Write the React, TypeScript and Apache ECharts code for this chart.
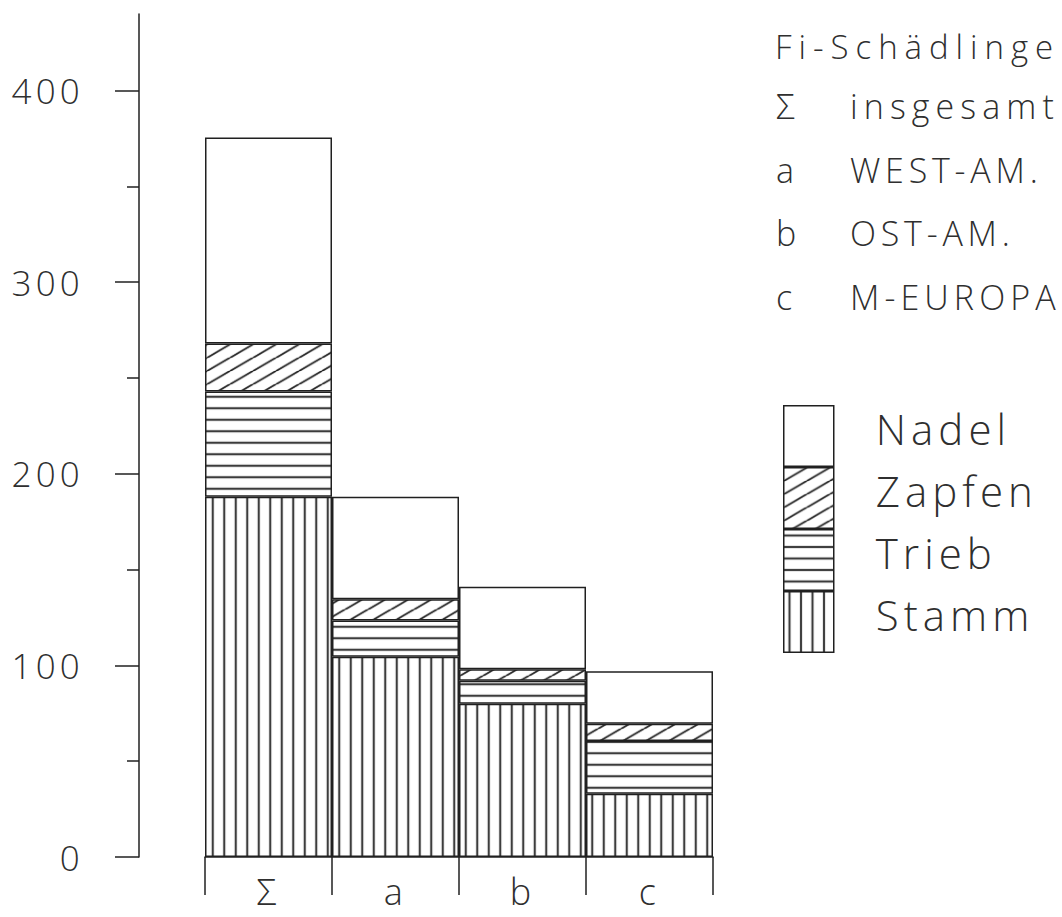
import React, { useEffect, useRef } from 'react';
import * as echarts from 'echarts';

// ---- data ----
const categories = ['Σ', 'a', 'b', 'c'];
const regionNames = ['insgesamt', 'WEST-AM.', 'OST-AM.', 'M-EUROPA'];
const titleText = 'Fi-Schädlinge';
const stamm = [188, 104.5, 80, 33];
const trieb = [55, 19, 12, 27.5];
const zapfen = [25, 11, 6, 9];
const nadel = [107.5, 53.5, 43, 27.5];
const legendOrder = ['Nadel', 'Zapfen', 'Trieb', 'Stamm'];
const yMajorTicks = [0, 100, 200, 300, 400];
const yMinorTicks = [50, 150, 250, 350];

const LINE = '#202020';
const TEXT = '#2f2f2f';
const FONT = '"Open Sans", "DejaVu Sans", sans-serif';

// extra letter spacing (px, on top of the general 0.12em) for a few texts
const extraSpacing: Record<string, number> = {
  'Fi-Schädlinge': 3,
  insgesamt: 2,
  'M-EUROPA': 1,
  'WEST-AM.': 0.7,
  'OST-AM.': 0.7,
};

function makePattern(kind: 'v' | 'h' | 'd') {
  const S = 4;
  let w = 11.5;
  let h = 11.5;
  if (kind === 'd') {
    w = 23;
    h = 13.25;
  }
  const c = document.createElement('canvas');
  c.width = Math.round(w * S);
  c.height = Math.round(h * S);
  const ctx = c.getContext('2d') as CanvasRenderingContext2D;
  ctx.fillStyle = '#ffffff';
  ctx.fillRect(0, 0, c.width, c.height);
  ctx.strokeStyle = LINE;
  ctx.lineWidth = 1.7 * S;
  ctx.beginPath();
  if (kind === 'v') {
    ctx.moveTo(c.width / 2, 0);
    ctx.lineTo(c.width / 2, c.height);
  } else if (kind === 'h') {
    ctx.moveTo(0, c.height / 2);
    ctx.lineTo(c.width, c.height / 2);
  } else {
    for (let k = -1; k <= 1; k++) {
      ctx.moveTo(0, c.height * (1 + k));
      ctx.lineTo(c.width, c.height * k);
    }
  }
  ctx.stroke();
  return { image: c, repeat: 'repeat', imageWidth: w, imageHeight: h };
}

export default function App() {
  const ref = useRef<HTMLDivElement | null>(null);

  useEffect(() => {
    if (!ref.current) return;
    const chart = echarts.init(ref.current, undefined, { renderer: 'svg' });

    const lineStyle = { color: LINE, width: 1.5 };
    const fills: Record<string, any> = {
      Stamm: makePattern('v'),
      Trieb: makePattern('h'),
      Zapfen: makePattern('d'),
      Nadel: '#ffffff',
    };
    const seriesData: [string, number[]][] = [
      ['Stamm', stamm],
      ['Trieb', trieb],
      ['Zapfen', zapfen],
      ['Nadel', nadel],
    ];

    const textStyleBase = { fontFamily: FONT, fontWeight: 300 as any, fill: TEXT };

    const graphic: any[] = [
      {
        type: 'text',
        x: 775,
        y: 46,
        style: { ...textStyleBase, text: titleText, fontSize: 33, align: 'left', verticalAlign: 'middle' },
      },
    ];
    categories.forEach((c, i) => {
      graphic.push({
        type: 'text',
        x: 776,
        y: 106 + i * 63.5,
        style: { ...textStyleBase, text: c, fontSize: 34, align: 'left', verticalAlign: 'middle' },
      });
    });
    regionNames.forEach((n, i) => {
      graphic.push({
        type: 'text',
        x: 850,
        y: 106 + i * 63.5,
        style: { ...textStyleBase, text: n, fontSize: 34, align: 'left', verticalAlign: 'middle' },
      });
    });

    chart.setOption({
      animation: false,
      backgroundColor: '#ffffff',
      grid: { left: 205, right: 349, top: 14, bottom: 60, containLabel: false },
      xAxis: {
        type: 'category',
        data: categories,
        axisLine: { show: true, lineStyle },
        axisTick: { show: true, length: 38, interval: 0, alignWithLabel: false, lineStyle },
        axisLabel: {
          interval: 0,
          fontFamily: FONT,
          fontWeight: 300,
          fontSize: 36,
          lineHeight: 36,
          color: TEXT,
          margin: 16,
        },
        splitLine: { show: false },
      },
      yAxis: [
        {
          type: 'value',
          min: 0,
          max: 440,
          position: 'left',
          offset: 66,
          axisLine: { show: true, lineStyle },
          axisTick: { show: true, length: 24, customValues: yMajorTicks, lineStyle },
          axisLabel: {
            customValues: yMajorTicks,
            fontFamily: FONT,
            fontWeight: 300,
            fontSize: 35,
            color: TEXT,
            margin: 55,
          },
          splitLine: { show: false },
        },
        {
          type: 'value',
          min: 0,
          max: 440,
          position: 'left',
          offset: 66,
          axisLine: { show: false },
          axisTick: { show: true, length: 12, customValues: yMinorTicks, lineStyle },
          axisLabel: { show: false },
          splitLine: { show: false },
        },
      ],
      legend: {
        data: legendOrder,
        orient: 'vertical',
        left: 783,
        top: 405,
        padding: 0,
        itemGap: 0,
        itemWidth: 50,
        itemHeight: 60.5,
        icon: 'rect',
        selectedMode: false,
        itemStyle: { borderColor: LINE, borderWidth: 1.5 },
        textStyle: {
          fontFamily: FONT,
          fontWeight: 300,
          fontSize: 42,
          color: TEXT,
          padding: [0, 0, 0, 37],
        },
      },
      series: seriesData.map(([name, values]) => ({
        name,
        type: 'bar',
        stack: 'total',
        yAxisIndex: 0,
        barCategoryGap: '0%',
        data: values,
        itemStyle: { color: fills[name], borderColor: LINE, borderWidth: 1.5 },
        emphasis: { disabled: true },
      })),
      graphic,
    });

    // per-text fine tuning (letter spacing, small vertical nudge of legend names)
    const texts = ref.current.querySelectorAll('text');
    texts.forEach((t) => {
      const content = (t.textContent || '').trim();
      if (content in extraSpacing) {
        (t as SVGTextElement).style.letterSpacing = `calc(0.12em + ${extraSpacing[content]}px)`;
      }
      if (legendOrder.indexOf(content) >= 0) {
        t.setAttribute('dy', '-8');
      }
    });

    return () => {
      chart.dispose();
    };
  }, []);

  return (
    <>
      <style>{`#fig text { letter-spacing: 0.12em; }`}</style>
      <div
        id="fig"
        ref={ref}
        style={{ position: 'fixed', left: 0, top: 0, width: 1062, height: 917, background: '#fff' }}
      />
    </>
  );
}
